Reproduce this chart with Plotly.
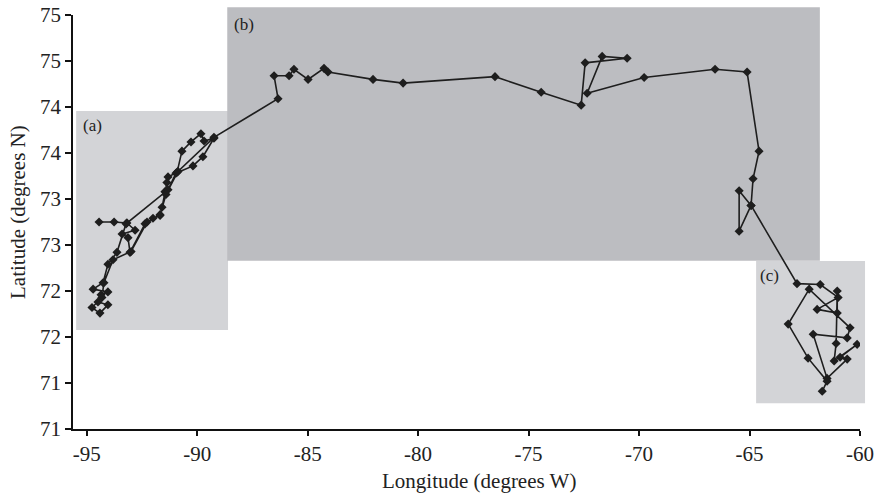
import plotly.graph_objects as go

# Track longitude (degrees W, negative) and latitude (degrees N), in travel order
lon_a = [-94.44, -93.76, -93.18, -92.81, -93.40, -93.13, -93.04, -92.36, -92.00, -91.68,
         -91.59, -91.46, -91.37, -91.32, -90.91, -90.69, -90.28, -89.83, -89.69, -89.24,
         -89.74, -90.19, -90.96, -91.32, -93.22, -93.63, -94.04, -94.26, -94.71, -94.04,
         -94.35, -94.49, -94.04, -94.40, -94.76, -94.31, -94.22, -93.81, -92.99, -92.27,
         -91.68, -91.41, -90.87, -89.24]
lat_a = [72.75, 72.75, 72.74, 72.66, 72.62, 72.58, 72.42, 72.73, 72.79, 72.82,
         72.91, 73.08, 73.18, 73.24, 73.29, 73.52, 73.62, 73.71, 73.63, 73.66,
         73.46, 73.36, 73.28, 73.10, 72.73, 72.42, 72.29, 72.09, 72.02, 71.99,
         71.96, 71.88, 71.85, 71.76, 71.82, 71.93, 72.09, 72.34, 72.43, 72.75,
         72.83, 73.05, 73.30, 73.67]

lon_b = [-86.34, -86.52, -85.84, -85.62, -84.98, -84.26, -84.08, -82.04, -80.68, -76.52,
         -74.43, -72.62, -72.44, -70.54, -71.67, -72.35, -69.77, -66.56, -65.11, -64.57,
         -64.84, -64.93, -65.47, -65.47, -64.93]
lat_b = [74.09, 74.34, 74.34, 74.41, 74.30, 74.42, 74.38, 74.30, 74.26, 74.33,
         74.16, 74.02, 74.48, 74.53, 74.55, 74.15, 74.32, 74.41, 74.38, 73.52,
         73.22, 72.93, 73.09, 72.65, 72.93]

lon_c = [-62.85, -61.80, -60.99, -61.94, -61.03, -61.03, -61.08, -61.17, -60.13, -60.90,
         -60.58, -61.49, -62.12, -60.58, -60.45, -62.30, -63.25, -62.35, -61.49, -61.71]
lat_c = [72.08, 72.07, 71.93, 71.80, 71.76, 72.00, 71.43, 71.24, 71.42, 71.28,
         71.26, 71.05, 71.53, 71.49, 71.60, 72.02, 71.64, 71.27, 71.02, 70.91]

x_ticks = [-95, -90, -85, -80, -75, -70, -65, -60]
x_tick_text = ["-95", "-90", "-85", "-80", "-75", "-70", "-65", "-60"]
y_ticks = [70.5, 71, 71.5, 72, 72.5, 73, 73.5, 74, 74.5, 75]
y_tick_text = ["71", "71", "72", "72", "73", "73", "74", "74", "75", "75"]

lon = lon_a + lon_b + lon_c
lat = lat_a + lat_b + lat_c

FONT = "Liberation Serif"
INK = "#222222"

fig = go.Figure()
fig.add_trace(go.Scatter(
    x=lon, y=lat, mode="lines+markers",
    line=dict(color="#1e1e1e", width=1.6),
    marker=dict(symbol="diamond", size=7, color="#1e1e1e"),
    showlegend=False, hoverinfo="x+y",
))

shade_light = "#d3d4d7"
shade_dark = "#bcbdc1"
fig.update_layout(
    width=874, height=493,
    margin=dict(l=73, r=14, t=15, b=64, autoexpand=False),
    paper_bgcolor="white", plot_bgcolor="white",
    font=dict(family=FONT, size=21, color=INK),
    shapes=[
        dict(type="rect", xref="paper", yref="paper", x0=0.004, x1=0.197, y0=0.239, y1=0.768,
             fillcolor=shade_light, line=dict(width=0), layer="below"),
        dict(type="rect", xref="paper", yref="paper", x0=0.196, x1=0.949, y0=0.4065, y1=1.019,
             fillcolor=shade_dark, line=dict(width=0), layer="below"),
        dict(type="rect", xref="paper", yref="paper", x0=0.868, x1=1.0064, y0=0.062, y1=0.406,
             fillcolor=shade_light, line=dict(width=0), layer="below"),
    ],
    annotations=[
        dict(text="(a)", xref="paper", yref="paper", x=0.0102, y=0.733, xanchor="left",
             yanchor="middle", showarrow=False, font=dict(size=17, family=FONT, color=INK)),
        dict(text="(b)", xref="paper", yref="paper", x=0.2014, y=0.978, xanchor="left",
             yanchor="middle", showarrow=False, font=dict(size=17, family=FONT, color=INK)),
        dict(text="(c)", xref="paper", yref="paper", x=0.870, y=0.3696, xanchor="left",
             yanchor="middle", showarrow=False, font=dict(size=17, family=FONT, color=INK)),
        dict(text="Longitude (degrees W)", xref="paper", yref="paper",
             x=(479.5 - 73) / 787, y=(429 - 481) / 414, xanchor="center", yanchor="middle",
             showarrow=False, font=dict(size=21, family=FONT, color=INK)),
        dict(text="Latitude (degrees N)", xref="paper", yref="paper", textangle=-90,
             x=(18 - 73) / 787, y=(429 - 212) / 414, xanchor="center", yanchor="middle",
             showarrow=False, font=dict(size=21, family=FONT, color=INK)),
    ],
)

fig.update_xaxes(
    range=[-95.62, -60], tickvals=x_ticks, ticktext=x_tick_text, ticks="outside", ticklen=5,
    tickwidth=1.5, tickcolor="#111", showline=True, linecolor="#111", linewidth=1.5,
    showgrid=False, zeroline=False, automargin=False,
    tickfont=dict(size=21, family=FONT, color=INK),
)
fig.update_yaxes(
    range=[70.5, 75], tickvals=y_ticks, ticktext=y_tick_text, ticks="outside", ticklen=6,
    tickwidth=1.5, tickcolor="#111", showline=True, linecolor="#111", linewidth=1.5,
    showgrid=False, zeroline=False, automargin=False,
    tickfont=dict(size=21, family=FONT, color=INK),
)

fig.write_html("out.html", config={"displayModeBar": False},
               post_script="document.body.style.margin='0';")
